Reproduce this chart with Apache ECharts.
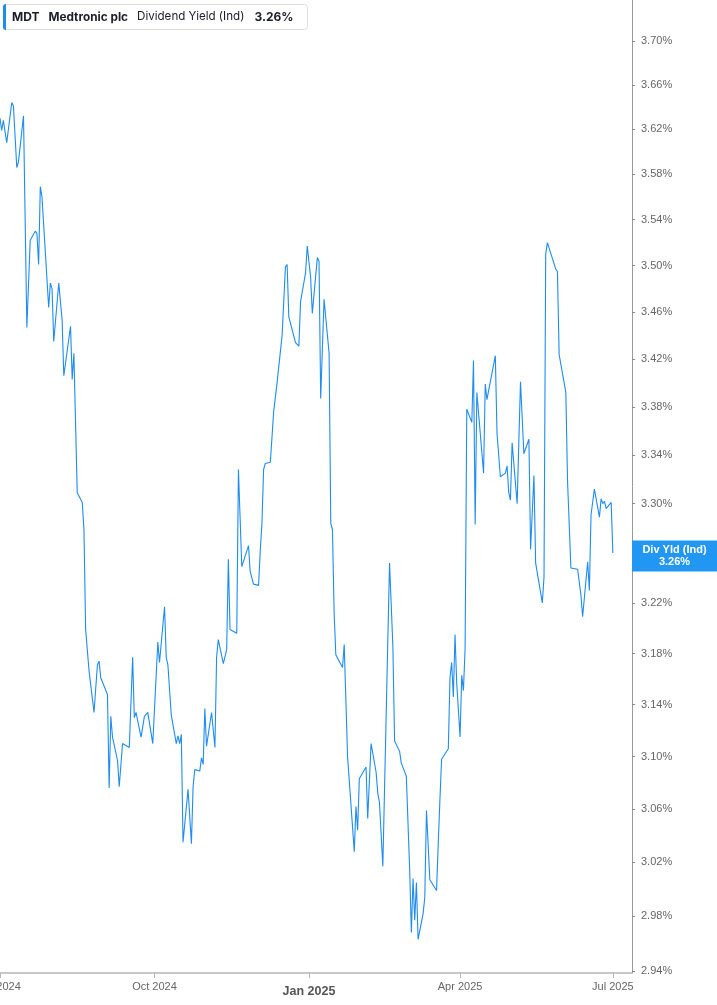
<!DOCTYPE html>
<html>
<head>
<meta charset="utf-8">
<script src="https://cdn.jsdelivr.net/npm/echarts@6/dist/echarts.min.js"></script>
<style>
html,body{margin:0;padding:0;background:#fff;}
#chart{width:717px;height:1005px;}
</style>
</head>
<body>
<div id="chart"></div>
<script>
// ---- data ----
const dates = [
'2024-07-01','2024-07-02','2024-07-03','2024-07-05','2024-07-08','2024-07-09','2024-07-11','2024-07-12','2024-07-15','2024-07-17',
'2024-07-18','2024-07-19','2024-07-22','2024-07-23','2024-07-24','2024-07-25','2024-07-26','2024-07-30','2024-07-31','2024-08-01',
'2024-08-02','2024-08-05','2024-08-07','2024-08-08','2024-08-12','2024-08-13','2024-08-14','2024-08-16','2024-08-19','2024-08-20',
'2024-08-21','2024-08-23','2024-08-26','2024-08-28','2024-08-29','2024-08-30','2024-09-03','2024-09-04','2024-09-05','2024-09-06',
'2024-09-09','2024-09-10','2024-09-12','2024-09-13','2024-09-16','2024-09-18','2024-09-19','2024-09-20','2024-09-23','2024-09-25',
'2024-09-27','2024-09-30','2024-10-01','2024-10-03','2024-10-04','2024-10-07','2024-10-08','2024-10-09','2024-10-11','2024-10-14',
'2024-10-15','2024-10-16','2024-10-17','2024-10-18','2024-10-21','2024-10-22','2024-10-23','2024-10-24','2024-10-25','2024-10-28',
'2024-10-29','2024-10-30','2024-10-31','2024-11-01','2024-11-04','2024-11-06','2024-11-07','2024-11-08','2024-11-11','2024-11-12',
'2024-11-13','2024-11-14','2024-11-15','2024-11-19','2024-11-20','2024-11-22','2024-11-26','2024-11-27','2024-11-29','2024-12-02',
'2024-12-03','2024-12-04','2024-12-05','2024-12-06','2024-12-09','2024-12-11','2024-12-13','2024-12-16','2024-12-17','2024-12-18',
'2024-12-19','2024-12-20','2024-12-24','2024-12-26','2024-12-27','2024-12-30','2024-12-31','2025-01-02','2025-01-03','2025-01-06',
'2025-01-07','2025-01-08','2025-01-10','2025-01-13','2025-01-14','2025-01-15','2025-01-16','2025-01-17','2025-01-21','2025-01-22',
'2025-01-24','2025-01-28','2025-01-29','2025-01-30','2025-01-31','2025-02-04','2025-02-05','2025-02-07','2025-02-10','2025-02-11',
'2025-02-12','2025-02-14','2025-02-18','2025-02-20','2025-02-21','2025-02-24','2025-02-25','2025-02-28','2025-03-02','2025-03-03',
'2025-03-04','2025-03-05','2025-03-06','2025-03-07','2025-03-10','2025-03-11','2025-03-12','2025-03-14','2025-03-18','2025-03-19',
'2025-03-20','2025-03-21','2025-03-25','2025-03-26','2025-03-27','2025-03-28','2025-03-29','2025-03-30','2025-04-01','2025-04-02',
'2025-04-03','2025-04-04','2025-04-05','2025-04-08','2025-04-09','2025-04-10','2025-04-11','2025-04-15','2025-04-16','2025-04-17',
'2025-04-22','2025-04-23','2025-04-25','2025-04-28','2025-04-29','2025-04-30','2025-05-01','2025-05-02','2025-05-05','2025-05-06',
'2025-05-07','2025-05-09','2025-05-12','2025-05-13','2025-05-15','2025-05-16','2025-05-20','2025-05-21','2025-05-22','2025-05-23',
'2025-05-28','2025-05-29','2025-05-30','2025-06-03','2025-06-04','2025-06-05','2025-06-06','2025-06-10','2025-06-12','2025-06-13',
'2025-06-16','2025-06-17','2025-06-18','2025-06-20','2025-06-23','2025-06-24','2025-06-25','2025-06-26','2025-06-27','2025-06-30',
'2025-07-01'
];
const yieldValues = [
3.630,3.619,3.628,3.608,3.644,3.641,3.586,3.591,3.632,3.447,
3.448,3.522,3.530,3.528,3.501,3.569,3.560,3.464,3.485,3.480,
3.435,3.485,3.453,3.406,3.448,3.403,3.425,3.309,3.301,3.279,
3.199,3.167,3.134,3.171,3.174,3.161,3.148,3.076,3.131,3.115,
3.097,3.077,3.110,3.111,3.107,3.177,3.130,3.134,3.115,3.131,
3.134,3.110,3.111,3.189,3.173,3.217,3.177,3.171,3.132,3.110,
3.116,3.110,3.117,3.035,3.075,3.074,3.034,3.077,3.090,3.089,
3.099,3.094,3.137,3.108,3.134,3.107,3.177,3.191,3.172,3.171,
3.183,3.255,3.199,3.196,3.328,3.249,3.266,3.245,3.235,3.234,
3.262,3.284,3.328,3.333,3.334,3.376,3.400,3.440,3.441,3.499,
3.501,3.456,3.434,3.431,3.469,3.494,3.517,3.490,3.459,3.507,
3.504,3.387,3.471,3.425,3.284,3.279,3.212,3.179,3.169,3.187,
3.100,3.028,3.062,3.044,3.083,3.092,3.053,3.110,3.088,3.072,
3.065,3.017,3.252,3.185,3.112,3.104,3.095,3.085,3.014,2.968,
3.008,2.977,3.005,2.963,2.982,2.994,3.059,3.007,2.999,3.034,
3.067,3.098,3.106,3.161,3.173,3.146,3.195,3.157,3.115,3.163,
3.151,3.184,3.378,3.367,3.419,3.283,3.392,3.325,3.399,3.386,
3.423,3.358,3.322,3.325,3.331,3.309,3.303,3.350,3.300,3.351,
3.401,3.341,3.353,3.263,3.323,3.252,3.220,3.241,3.510,3.520,
3.497,3.495,3.424,3.392,3.319,3.318,3.248,3.247,3.226,3.209,
3.253,3.230,3.291,3.312,3.289,3.304,3.300,3.302,3.296,3.301,
3.260
];
const yTickValues = [2.94,2.98,3.02,3.06,3.10,3.14,3.18,3.22,3.26,3.30,3.34,3.38,3.42,3.46,3.50,3.54,3.58,3.62,3.66,3.70];
const xTickDates = ['2024-07-01','2024-10-01','2025-01-01','2025-04-01','2025-07-01'];
const monthNames = ['Jan','Feb','Mar','Apr','May','Jun','Jul','Aug','Sep','Oct','Nov','Dec'];
const ticker = 'MDT';
const company = 'Medtronic plc';
const metric = 'Dividend Yield (Ind)';
const shortMetric = 'Div Yld (Ind)';

// ---- chart ----
const blue = '#1e8cf0';
const lastValue = yieldValues[yieldValues.length - 1];
const toTs = s => { const p = s.split('-').map(Number); return new Date(p[0], p[1]-1, p[2]).getTime(); };
const xMin = toTs('2024-07-01');
const xMax = xMin + 376.4 * 86400000;
const chart = echarts.init(document.getElementById('chart'), null, {renderer:'canvas'});
const option = {
  animation: false,
  backgroundColor: '#fff',
  title: {
    left: 3, top: 4,
    padding: [0, 14, 0, 0],
    backgroundColor: '#fff',
    borderColor: '#dedede',
    borderWidth: 1,
    borderRadius: 3,
    text: '{bar| }{m|' + ticker + '}{n|' + company + '}{d|' + metric + '}{v|' + lastValue.toFixed(2) + '%}',
    textStyle: {
      rich: {
        bar: {width: 3, height: 26, backgroundColor: blue, borderRadius: [3,0,0,3], fontSize: 1},
        m: {fontFamily: 'Inter', fontWeight: 'bold', fontSize: 12, color: '#1c1d2a', padding: [0, 9, 0, 6]},
        n: {fontFamily: 'Inter', fontWeight: 'bold', fontSize: 11.8, color: '#1c1d2a', padding: [0, 9, 0, 0]},
        d: {fontFamily: 'Inter', fontWeight: 'normal', fontSize: 11.6, color: '#1c1d2a', padding: [0, 10, 0, 0]},
        v: {fontFamily: 'Inter', fontWeight: 'bold', fontSize: 12, color: '#1c1d2a'}
      }
    }
  },
  grid: {left: 0, right: 85, top: 0, bottom: 32, containLabel: false, outerBoundsMode: 'none'},
  xAxis: {
    type: 'value',
    min: xMin,
    max: xMax,
    axisLine: {show: true, lineStyle: {color: '#b5b5b5', width: 1.5}},
    axisTick: {show: true, length: 5, lineStyle: {color: '#b5b5b5'}, customValues: xTickDates.map(toTs)},
    splitLine: {show: false},
    axisLabel: {
      customValues: xTickDates.map(toTs),
      margin: 8,
      hideOverlap: false,
      formatter: function (v) {
        const d = new Date(v);
        const txt = monthNames[d.getMonth()] + ' ' + d.getFullYear();
        return d.getMonth() === 0 ? '{b|' + txt + '}' : '{a|' + txt + '}';
      },
      rich: {
        a: {fontFamily: 'Liberation Sans', fontSize: 11, color: '#666'},
        b: {fontFamily: 'Liberation Sans', fontSize: 12.5, fontWeight: 'bold', color: '#555', padding: [4, 0, 0, 0]}
      }
    }
  },
  yAxis: {
    type: 'log',
    logBase: 10,
    position: 'right',
    min: 2.9385,
    max: 3.7376,
    axisLine: {show: true, lineStyle: {color: '#999', width: 1}},
    axisTick: {show: true, length: 3, lineStyle: {color: '#888'}, customValues: yTickValues},
    minorTick: {show: false},
    splitLine: {show: false},
    axisLabel: {
      customValues: yTickValues,
      margin: 9,
      fontFamily: 'Liberation Sans',
      fontSize: 11,
      color: '#666',
      formatter: v => Number(v).toFixed(2) + '%'
    }
  },
  series: [{
    type: 'line',
    data: dates.map((d, i) => [toTs(d), yieldValues[i]]),
    showSymbol: false,
    symbol: 'none',
    clip: false,
    lineStyle: {color: blue, width: 1.1},
    markLine: {
      silent: true,
      symbol: 'none',
      lineStyle: {color: 'rgba(0,0,0,0)', width: 0, type: 'solid'},
      data: [{yAxis: lastValue}],
      label: {
        show: true,
        position: 'end',
        distance: 0,
        offset: [0, 3],
        backgroundColor: '#2196f3',
        padding: [3, 0, 3, 0],
        formatter: '{a|' + shortMetric + '}\n{a|' + lastValue.toFixed(2) + '%}',
        rich: {
          a: {width: 85, align: 'center', color: '#fff', fontWeight: 'bold', fontFamily: 'Liberation Sans', fontSize: 11, lineHeight: 12.5}
        }
      }
    }
  }]
};
chart.setOption(option);
</script>
</body>
</html>
